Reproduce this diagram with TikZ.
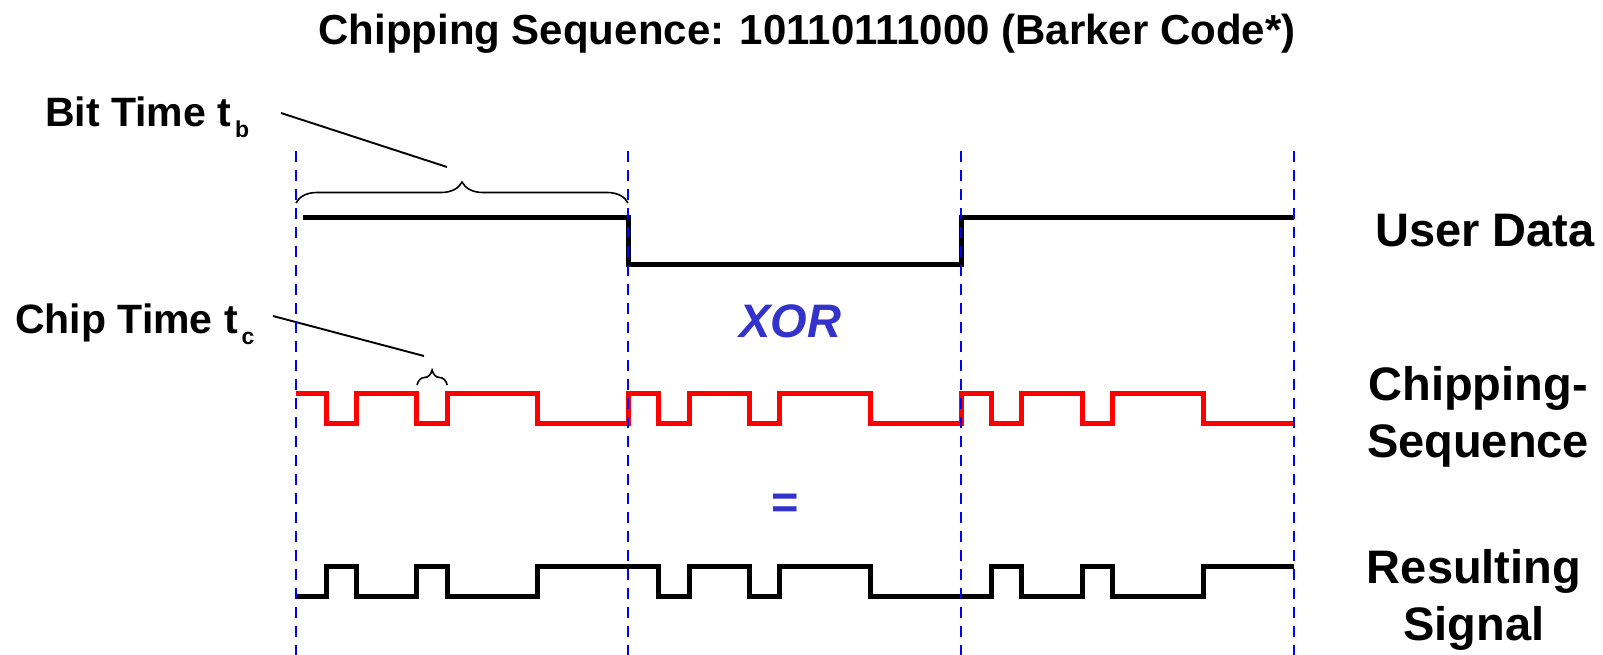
\documentclass[tikz,border=0pt]{standalone}
\usepackage{fontspec}
\setmainfont{Liberation Sans}
\usepackage{tikz}
\usetikzlibrary{decorations.pathreplacing}
\definecolor{xorblue}{RGB}{51,51,204}
\tikzset{
  title/.style={inner sep=0pt,font=\fontsize{42}{50}\selectfont\bfseries},
  lbl/.style={inner sep=0pt,font=\fontsize{41}{49}\selectfont\bfseries},
  rowlbl/.style={inner sep=0pt,align=center,font=\fontsize{47}{57}\selectfont\bfseries},
  op/.style={inner sep=0pt,text=xorblue,font=\fontsize{47}{57}\selectfont\bfseries},
  wave/.style={line width=5pt},
  chipwave/.style={line width=5pt,red},
  bitmark/.style={blue,line width=2.6pt,dash pattern=on 11pt off 8pt},
  brc/.style={decorate,decoration={brace,amplitude=#1},line width=1.6pt},
  pointer/.style={line width=1.9pt},
}
\newcommand{\tsub}[1]{\hspace{4pt}\raisebox{-11pt}{\fontsize{23}{23}\selectfont #1}}

\begin{document}
\begin{tikzpicture}[x=1pt,y=-1pt]
  \useasboundingbox (0,0) rectangle (1603,655);
  \node[title,anchor=base] (title) at (807,45)
    {Chipping Sequence: 10110111000 (Barker Code*)};

  % labels
  \node[lbl,anchor=base west] (tb) at (45,127) {Bit Time t\tsub{b}};
  \node[lbl,anchor=base west] (tc) at (15,333) {Chip Time t\tsub{c}};
  \node[rowlbl,anchor=base] (ud) at (1485,247) {User Data};
  \node[rowlbl,anchor=base] (cs) at (1478,457) {Chipping-\\Sequence};
  \node[rowlbl,anchor=base] (rs) at (1474,640) {Resulting\\Signal};
  \node[op,anchor=base] (xor) at (790,337) {\itshape XOR};
  \node[op,anchor=base] (eq) at (785,518) {=};

  % user data 1 0 1
  \draw[wave] (303,218) -- (628,218) -- (628,264) -- (961,264)
    -- (961,218) -- (1294,218);

  % chipping sequence, 11 chips per bit
  \draw[chipwave] (296,393) \foreach \b in {0,1,2}{
      \foreach \v [count=\i from 0] in {1,0,1,1,0,1,1,1,0,0,0}{
        -- ({296+(11*\b+\i)*30.24},{393+30*(1-\v)}) -- ++(30.24,0)
      }};

  % resulting signal = data xor chips
  \draw[wave] (296,596) \foreach \d [count=\b from 0] in {1,0,1}{
      \foreach \v [count=\i from 0] in {1,0,1,1,0,1,1,1,0,0,0}{
        -- ({296+(11*\b+\i)*30.24},{566+30*(1-(\v+\d-2*\v*\d))}) -- ++(30.24,0)
      }};

  % braces and pointers
  \draw[brc=21] (296,203) -- (628,203);
  \draw[brc=15] (417,385) -- (447.2,385);
  \coordinate (tbfrom) at (281,113);
  \coordinate (tbto) at (447,167);
  \coordinate (tcfrom) at (273,316);
  \coordinate (tcto) at (424,356);
  \draw[pointer] (tbfrom) -- (tbto);
  \draw[pointer] (tcfrom) -- (tcto);

  % bit boundaries
  \foreach \x in {296,628,961,1294}
    \draw[bitmark] (\x,151) -- (\x,655);
\end{tikzpicture}
\end{document}
